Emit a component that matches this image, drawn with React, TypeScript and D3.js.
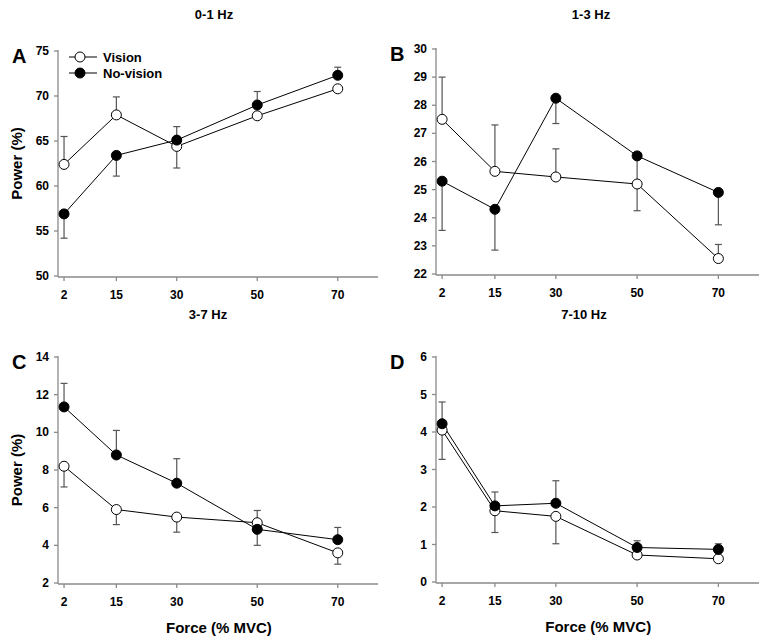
import React from "react";
import * as d3 from "d3";

const forces = [2, 15, 30, 50, 70];
const xTickLabels = ["2", "15", "30", "50", "70"];

const titles = ["0-1 Hz", "1-3 Hz", "3-7 Hz", "7-10 Hz"];
const letters = ["A", "B", "C", "D"];

const visionA = [62.4, 67.9, 64.4, 67.8, 70.8];
const visionErrA = [3.1, 2.0, -2.4, 0, 0];
const noVisionA = [56.9, 63.4, 65.1, 69.0, 72.3];
const noVisionErrA = [-2.7, -2.3, 1.5, 1.5, 0.9];

const visionB = [27.5, 25.65, 25.45, 25.2, 22.55];
const visionErrB = [1.5, 1.65, 1.0, -0.95, 0.5];
const noVisionB = [25.3, 24.3, 28.25, 26.2, 24.9];
const noVisionErrB = [-1.75, -1.45, -0.9, -0.9, -1.15];

const visionC = [8.2, 5.9, 5.5, 5.2, 3.6];
const visionErrC = [-1.1, -0.8, -0.8, 0.65, -0.6];
const noVisionC = [11.35, 8.8, 7.3, 4.85, 4.3];
const noVisionErrC = [1.25, 1.3, 1.3, -0.85, 0.65];

const visionD = [4.05, 1.9, 1.75, 0.72, 0.62];
const visionErrD = [-0.78, -0.58, -0.73, -0.08, 0];
const noVisionD = [4.22, 2.03, 2.1, 0.92, 0.87];
const noVisionErrD = [0.58, 0.37, 0.6, 0.18, 0.15];

const yTicksA = [50, 55, 60, 65, 70, 75];
const yTicksB = [22, 23, 24, 25, 26, 27, 28, 29, 30];
const yTicksC = [2, 4, 6, 8, 10, 12, 14];
const yTicksD = [0, 1, 2, 3, 4, 5, 6];

const FONT = "'Liberation Sans', Arial, sans-serif";
const AXIS_COLOR = "#8a8a8a";
const ERR_COLOR = "#555";

type PanelDef = {
  title: string;
  letter: string;
  vision: number[];
  visionErr: number[];
  noVision: number[];
  noVisionErr: number[];
  yTicks: number[];
  x0: number;
  x1: number;
  yTop: number;
  yBot: number;
  titleX: number;
  titleY: number;
  showYLabel: boolean;
  showXLabel: boolean;
  showLegend: boolean;
};

const panels: PanelDef[] = [
  { title: titles[0], letter: letters[0], vision: visionA, visionErr: visionErrA, noVision: noVisionA, noVisionErr: noVisionErrA, yTicks: yTicksA, x0: 58, x1: 378, yTop: 51, yBot: 276, titleX: 214, titleY: 19, showYLabel: true, showXLabel: false, showLegend: true },
  { title: titles[1], letter: letters[1], vision: visionB, visionErr: visionErrB, noVision: noVisionB, noVisionErr: noVisionErrB, yTicks: yTicksB, x0: 436, x1: 759, yTop: 49, yBot: 274, titleX: 591, titleY: 19, showYLabel: false, showXLabel: false, showLegend: false },
  { title: titles[2], letter: letters[2], vision: visionC, visionErr: visionErrC, noVision: noVisionC, noVisionErr: noVisionErrC, yTicks: yTicksC, x0: 58, x1: 378, yTop: 357, yBot: 583, titleX: 208, titleY: 319, showYLabel: true, showXLabel: true, showLegend: false },
  { title: titles[3], letter: letters[3], vision: visionD, visionErr: visionErrD, noVision: noVisionD, noVisionErr: noVisionErrD, yTicks: yTicksD, x0: 436, x1: 759, yTop: 357, yBot: 582, titleX: 584, titleY: 319, showYLabel: false, showXLabel: true, showLegend: false },
];

function Panel({ p }: { p: PanelDef }) {
  const x = d3.scaleLinear().domain([0.5, 80]).range([p.x0, p.x1]);
  const yDom = d3.extent(p.yTicks) as [number, number];
  const y = d3.scaleLinear().domain(yDom).range([p.yBot, p.yTop]);
  const axisY = p.yBot + 1;
  const line = d3
    .line<number>()
    .x((_, i) => x(forces[i]))
    .y((v) => y(v));

  const errBars = (vals: number[], errs: number[], key: string) =>
    vals.map((v, i) => {
      if (!errs[i]) return null;
      const cx = x(forces[i]);
      const yEnd = y(v + errs[i]);
      return (
        <g key={key + i}>
          <line x1={cx} x2={cx} y1={y(v)} y2={yEnd} stroke={ERR_COLOR} strokeWidth={1.2} />
          <line x1={cx - 3.5} x2={cx + 3.5} y1={yEnd} y2={yEnd} stroke={ERR_COLOR} strokeWidth={1.2} />
        </g>
      );
    });

  const markers = (vals: number[], fill: string, key: string) =>
    vals.map((v, i) => (
      <circle key={key + i} cx={x(forces[i])} cy={y(v)} r={5} fill={fill} stroke="#000" strokeWidth={1} />
    ));

  return (
    <g>
      <text x={p.titleX} y={p.titleY} textAnchor="middle" fontFamily={FONT} fontWeight="bold" fontSize={13}>
        {p.title}
      </text>
      <text x={p.x0 - 46} y={p.yTop + 12} fontFamily={FONT} fontWeight="bold" fontSize={20}>
        {p.letter}
      </text>
      {/* y axis */}
      <line x1={p.x0} x2={p.x0} y1={p.yTop - 1} y2={axisY} stroke={AXIS_COLOR} strokeWidth={1.3} />
      {p.yTicks.map((t) => (
        <g key={"yt" + t}>
          <line x1={p.x0 - 4} x2={p.x0} y1={y(t)} y2={y(t)} stroke={AXIS_COLOR} strokeWidth={1.3} />
          <text x={p.x0 - 9} y={y(t) + 4} textAnchor="end" fontFamily={FONT} fontWeight="bold" fontSize={12}>
            {t}
          </text>
        </g>
      ))}
      {/* x axis */}
      <line x1={p.x0} x2={p.x1} y1={axisY} y2={axisY} stroke={AXIS_COLOR} strokeWidth={1.3} />
      {forces.map((f, i) => (
        <g key={"xt" + f}>
          <line x1={x(f)} x2={x(f)} y1={axisY} y2={axisY + 4} stroke={AXIS_COLOR} strokeWidth={1.3} />
          <text x={x(f)} y={axisY + 22} textAnchor="middle" fontFamily={FONT} fontWeight="bold" fontSize={12}>
            {xTickLabels[i]}
          </text>
        </g>
      ))}
      {p.showYLabel && (
        <text
          transform={`translate(22,${(p.yTop + p.yBot) / 2}) rotate(-90)`}
          textAnchor="middle"
          fontFamily={FONT}
          fontWeight="bold"
          fontSize={15}
        >
          Power (%)
        </text>
      )}
      {p.showXLabel && (
        <text x={(x(2) + x(70)) / 2 + 18} y={axisY + 49} textAnchor="middle" fontFamily={FONT} fontWeight="bold" fontSize={15}>
          Force (% MVC)
        </text>
      )}
      <path d={line(p.vision) || ""} fill="none" stroke="#000" strokeWidth={1} />
      <path d={line(p.noVision) || ""} fill="none" stroke="#000" strokeWidth={1} />
      {errBars(p.vision, p.visionErr, "ve")}
      {errBars(p.noVision, p.noVisionErr, "ne")}
      {markers(p.vision, "#fff", "vm")}
      {markers(p.noVision, "#000", "nm")}
      {p.showLegend && (
        <g>
          <line x1={69} x2={97} y1={57} y2={57} stroke="#000" strokeWidth={1} />
          <circle cx={80} cy={57} r={5} fill="#fff" stroke="#000" />
          <text x={103} y={62} fontFamily={FONT} fontWeight="bold" fontSize={13}>Vision</text>
          <line x1={69} x2={97} y1={73} y2={73} stroke="#000" strokeWidth={1} />
          <circle cx={80} cy={73} r={5} fill="#000" stroke="#000" />
          <text x={103} y={78} fontFamily={FONT} fontWeight="bold" fontSize={13}>No-vision</text>
        </g>
      )}
    </g>
  );
}

export default function App() {
  return (
    <svg
      width={768}
      height={643}
      style={{ position: "absolute", left: 0, top: 0, background: "#fff" }}
    >
      <rect width={768} height={643} fill="#fff" />
      {panels.map((p) => (
        <Panel key={p.letter} p={p} />
      ))}
    </svg>
  );
}
